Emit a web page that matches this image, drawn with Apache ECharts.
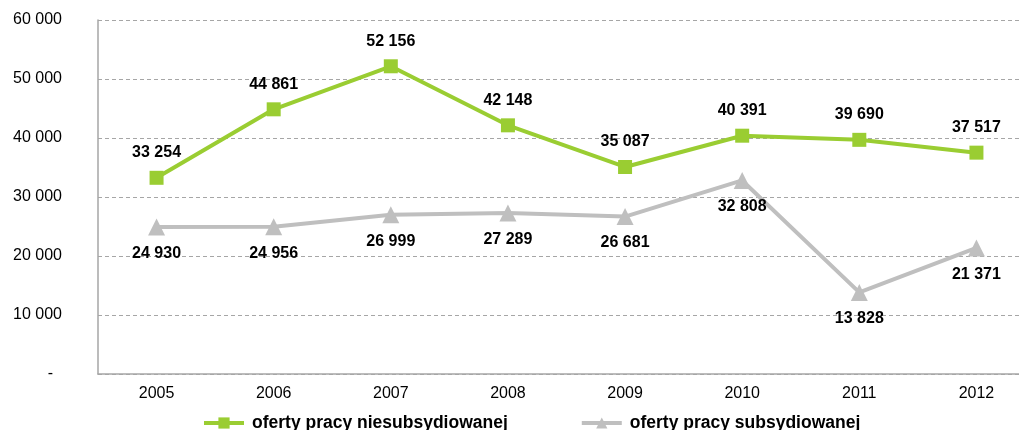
<!DOCTYPE html>
<html>
<head>
<meta charset="utf-8">
<script src="https://cdn.jsdelivr.net/npm/echarts@6/dist/echarts.min.js"></script>
<style>
html,body{margin:0;padding:0;background:#fff;overflow:hidden;}
#c{width:1036px;height:430px;}
</style>
</head>
<body>
<div id="c"></div>
<script>
var categories = ['2005','2006','2007','2008','2009','2010','2011','2012'];
var niesubsydiowane = [33254, 44861, 52156, 42148, 35087, 40391, 39690, 37517];
var subsydiowane = [24930, 24956, 26999, 27289, 26681, 32808, 13828, 21371];
var seriesNames = ['oferty pracy niesubsydiowanej', 'oferty pracy subsydiowanej'];

function fmt(v){ return String(v).replace(/\B(?=(\d{3})+(?!\d))/g, ' '); }
var FONT = 'Arial, "Liberation Sans", sans-serif';
var chart = echarts.init(document.getElementById('c'));
chart.setOption({
  animation: false,
  grid: {left: 98, right: 1, top: 20, height: 354},
  legend: {
    top: 409, left: 197, itemWidth: 40, itemHeight: 14, itemGap: 72,
    lineStyle: {width: 4},
    textStyle: {fontFamily: FONT, fontSize: 17.5, fontWeight: 'bold', color: '#000', padding: [0,0,0,3]},
    data: seriesNames
  },
  xAxis: {
    type: 'category', data: categories, boundaryGap: true,
    axisLine: {lineStyle: {color: '#A6A6A6', width: 1.5}},
    axisTick: {show: false},
    axisLabel: {fontFamily: FONT, fontSize: 16, color: '#000', margin: 12}
  },
  yAxis: {
    type: 'value', min: 0, max: 60000, interval: 10000,
    axisLine: {show: true, lineStyle: {color: '#A6A6A6', width: 1.5}},
    axisTick: {show: false},
    splitLine: {lineStyle: {color: '#A6A6A6', type: [4,3], width: 1}},
    axisLabel: {
      fontFamily: FONT, fontSize: 16, color: '#000', margin: 36,
      formatter: function(v){ return v === 0 ? '{d|-}' : fmt(v); },
      rich: {d: {fontFamily: FONT, fontSize: 16, color: '#000', padding: [0,9,0,0]}}
    }
  },
  series: [
    {
      name: seriesNames[0], type: 'line', data: niesubsydiowane,
      symbol: 'rect', symbolSize: 14,
      lineStyle: {color: '#9ACD32', width: 4},
      itemStyle: {color: '#9ACD32'},
      label: {show: true, position: 'top', distance: 10, fontFamily: FONT, fontSize: 16, fontWeight: 'bold', color: '#000',
        formatter: function(p){ return fmt(p.value); }},
      z: 3
    },
    {
      name: seriesNames[1], type: 'line', data: subsydiowane,
      symbol: 'triangle', symbolSize: 17,
      lineStyle: {color: '#BFBFBF', width: 4},
      itemStyle: {color: '#BFBFBF'},
      label: {show: true, position: 'bottom', distance: 10, fontFamily: FONT, fontSize: 16, fontWeight: 'bold', color: '#000',
        formatter: function(p){ return fmt(p.value); }},
      z: 2
    }
  ]
});
</script>
</body>
</html>
